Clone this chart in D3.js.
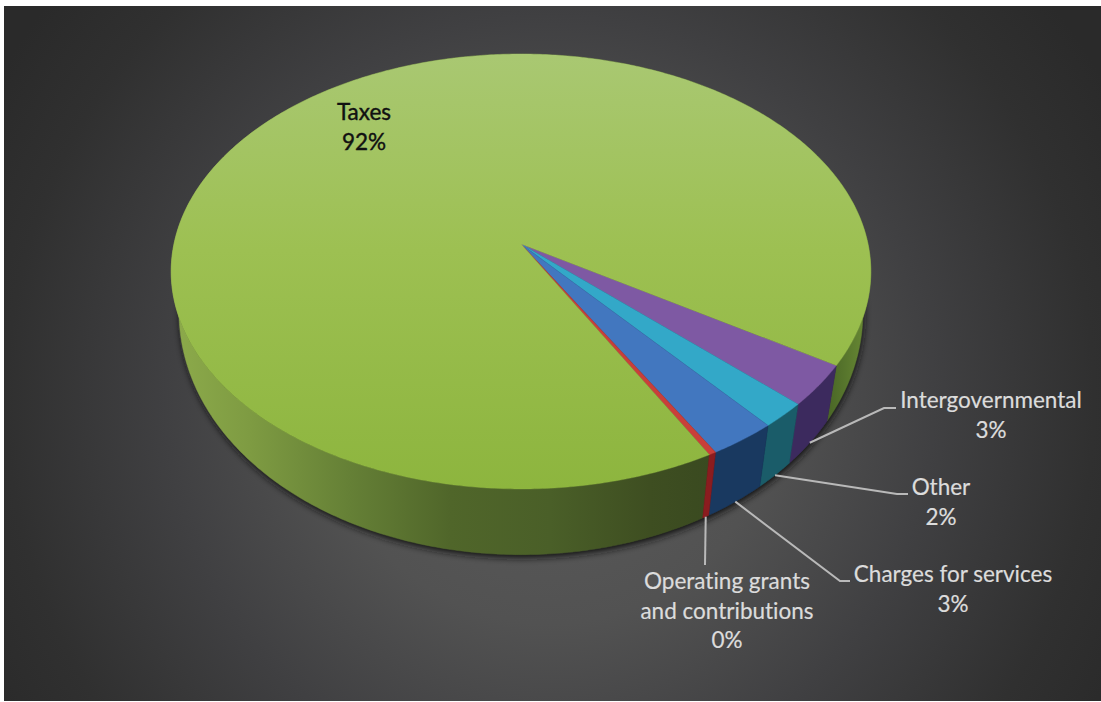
<!DOCTYPE html>
<html>
<head>
<meta charset="utf-8">
<script src="https://cdn.jsdelivr.net/npm/d3@7/dist/d3.min.js"></script>
<style>
  html, body { margin: 0; padding: 0; background: #fff; }
  svg { display: block; }
  text { font-family: Lato, "Open Sans", sans-serif; font-size: 22.5px; font-variant-ligatures: none; }
</style>
</head>
<body>
<svg id="chart" width="1101" height="702"></svg>
<script>
// Revenue shares, clockwise from the right-hand edge of the green slice
const categories = ["Intergovernmental", "Other", "Charges for services", "Operating grants and contributions", "Taxes"];
const shares = [3.1, 1.9, 2.8, 0.3, 92];
const percentLabels = ["3%", "2%", "3%", "0%", "92%"];
const topColors = ["#7e59a3", "#33a8c8", "#4277bf", "#c93f3a", "url(#topGreen)"];
const wallColors = ["#3c2a5e", "#1a5c69", "#193960", "#8b1c1f", "url(#wallGreen)"];
const labelLines = [["Intergovernmental", "3%"], ["Other", "2%"], ["Charges for services", "3%"],
                    ["Operating grants", "and contributions", "0%"], ["Taxes", "92%"]];
const labelAnchors = [[991, 408], [941, 495], [953, 582], [727, 589], [364, 120]];
const leaderElbows = [[[884, 408], [896, 408]], [[897, 494], [908, 494]], [[840, 581], [850, 581]], [[705, 565]], null];

const width = 1101, height = 702;
const svg = d3.select("#chart");
const defs = svg.append("defs");

// Perspective view of the disc: apex position, radii and foreshortening
const apex = [521, 244];
const radiusX = 347, radiusY = 214, tilt = 0.1264;
const wallShrink = 0.0374, vanishY = 2246;

const project = (angle) => {
  const X = Math.sin(angle), Y = -Math.cos(angle);
  const w = 1 - tilt * Y;
  return [apex[0] + radiusX * X / w, apex[1] + radiusY * Y / w];
};
// Lower rim point below a top rim point: nearer points travel further down the wall
const drop = ([x, y]) => {
  const dy = y - apex[1];
  const Y = dy / (radiusY + tilt * dy);
  const s = 1 - wallShrink * (0.55 + 0.45 * Y);
  return [apex[0] + (x - apex[0]) * s, vanishY - (vanishY - y) * s];
};

const pie = d3.pie().sort(null).value(d => d)
  .startAngle(122 * Math.PI / 180)
  .endAngle(482 * Math.PI / 180);
const arcs = pie(shares);

const line = d3.line();
const rim = (a0, a1) => d3.range(0, 1.0001, 1 / Math.max(2, Math.ceil((a1 - a0) / 0.01)))
  .map(t => project(a0 + (a1 - a0) * t));

// Backdrop
const bg = defs.append("radialGradient").attr("id", "backdrop")
  .attr("gradientUnits", "userSpaceOnUse")
  .attr("cx", 550).attr("cy", 400).attr("r", 640);
[[0, "#5c5c5c"], [0.35, "#525252"], [0.6, "#404042"], [0.85, "#303030"], [1, "#2a2a2a"]]
  .forEach(([o, c]) => bg.append("stop").attr("offset", o).attr("stop-color", c));

const topGreen = defs.append("linearGradient").attr("id", "topGreen")
  .attr("gradientUnits", "userSpaceOnUse").attr("x1", 0).attr("x2", 0).attr("y1", 54).attr("y2", 490);
[[0, "#a9c872"], [0.45, "#9dc052"], [1, "#8db53e"]]
  .forEach(([o, c]) => topGreen.append("stop").attr("offset", o).attr("stop-color", c));

const wallGreen = defs.append("linearGradient").attr("id", "wallGreen")
  .attr("gradientUnits", "userSpaceOnUse").attr("x1", 170).attr("x2", 871).attr("y1", 0).attr("y2", 0);
[[170, "#8dab4b"], [250, "#7e9b42"], [350, "#658036"], [450, "#50662a"], [550, "#4a5f28"],
 [650, "#3e4e21"], [710, "#3a4a20"], [830, "#4b6827"], [871, "#6c8d36"]]
  .forEach(([x, c]) => wallGreen.append("stop").attr("offset", (x - 170) / 701).attr("stop-color", c));

defs.append("filter").attr("id", "soft").attr("x", "-10%").attr("y", "-10%").attr("width", "120%").attr("height", "120%")
  .append("feGaussianBlur").attr("stdDeviation", 3.5);

svg.append("rect").attr("x", 4).attr("y", 6).attr("width", width - 4).attr("height", height - 7)
  .attr("fill", "url(#backdrop)");

// Contact shadow hugging the underside of the disc
const bottomRim = rim(0, 2 * Math.PI).map(drop);
svg.append("path")
  .attr("d", line(bottomRim) + "Z")
  .attr("transform", "translate(1,3)")
  .attr("fill", "#121212")
  .attr("filter", "url(#soft)");

// Side walls sit under the top face, so only the front part stays visible
const walls = svg.append("g");
[4, 0, 1, 2, 3].forEach(i => {
  const a = arcs[i];
  const outer = rim(a.startAngle, a.endAngle);
  walls.append("path")
    .attr("d", line(outer.concat(outer.map(drop).reverse())) + "Z")
    .attr("fill", wallColors[i])
    .attr("stroke", wallColors[i]).attr("stroke-width", 0.5);
});

// Top face of each slice, fanned out from the apex
const tops = svg.append("g");
arcs.forEach((a, i) => {
  tops.append("path")
    .attr("d", line([apex].concat(rim(a.startAngle, a.endAngle))) + "Z")
    .attr("fill", topColors[i])
    .attr("stroke", topColors[i]).attr("stroke-width", 0.4);
});

// Leader lines from the lower rim out to each label
const leaders = svg.append("g").attr("fill", "none").attr("stroke", "#b9b9b9").attr("stroke-width", 2);
arcs.forEach((a, i) => {
  if (!leaderElbows[i]) return;
  const start = drop(project((a.startAngle + a.endAngle) / 2));
  leaders.append("path").attr("d", line([start].concat(leaderElbows[i])));
});

// Labels
const labels = svg.append("g").attr("text-anchor", "middle");
labelLines.forEach((rows, i) => {
  const [x, y] = labelAnchors[i];
  const fill = i === 4 ? "#111" : "#dcdcdc";
  const t = labels.append("text")
    .attr("x", x).attr("y", y)
    .attr("fill", fill)
    .attr("stroke", fill).attr("stroke-width", i === 4 ? 0.4 : 0.2);
  rows.forEach((row, r) => {
    t.append("tspan").attr("x", x).attr("dy", r === 0 ? 0 : 29.5).text(row);
  });
});
</script>
</body>
</html>
